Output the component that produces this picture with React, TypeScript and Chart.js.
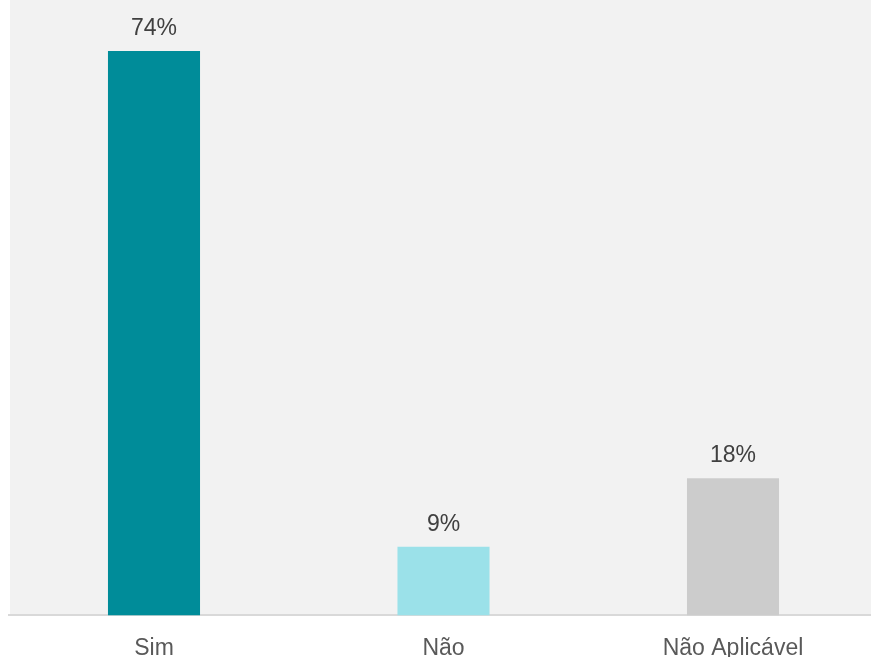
import React, { useEffect, useRef } from "react";
import { Chart, registerables } from "chart.js";

Chart.register(...registerables);

const categories = ["Sim", "Não", "Não Aplicável"];
const values = [74, 9, 18];
const valueLabels = ["74%", "9%", "18%"];
const barColors = ["#008C99", "#9BE1E9", "#CCCCCC"];

const bgPlugin = {
  id: "areaBg",
  beforeDraw(chart: any) {
    const { ctx, chartArea } = chart;
    ctx.save();
    ctx.fillStyle = "#F2F2F2";
    ctx.fillRect(10, chartArea.top, chart.width - 10, chartArea.bottom - chartArea.top);
    ctx.restore();
  },
};

const labelPlugin = {
  id: "valueLabels",
  afterDatasetsDraw(chart: any) {
    const { ctx } = chart;
    const meta = chart.getDatasetMeta(0);
    ctx.save();
    ctx.fillStyle = "#404040";
    ctx.font = "23px 'Liberation Sans', Arial, sans-serif";
    ctx.textAlign = "center";
    ctx.textBaseline = "alphabetic";
    meta.data.forEach((bar: any, i: number) => {
      ctx.fillText(valueLabels[i], bar.x, bar.y - 16);
    });
    ctx.restore();
  },
};

export default function App() {
  const ref = useRef<HTMLCanvasElement>(null);
  useEffect(() => {
    document.documentElement.style.overflow = "hidden";
    const chart = new Chart(ref.current!, {
      type: "bar",
      data: {
        labels: categories,
        datasets: [
          {
            data: values,
            backgroundColor: barColors,
            borderWidth: 0,
            barPercentage: 0.318,
            categoryPercentage: 1,
          },
        ],
      },
      options: {
        responsive: false,
        animation: false,
        layout: { padding: { left: 9.25, right: 2.25, top: 0, bottom: 0 } },
        plugins: { legend: { display: false }, tooltip: { enabled: false } },
        scales: {
          y: { display: false, min: 0, max: 80.7 },
          x: {
            grid: { display: false },
            border: { display: true, color: "#D9D9D9", width: 2 },
            ticks: {
              color: "#595959",
              font: { family: "'Liberation Sans', Arial, sans-serif", size: 23 },
              padding: 11,
            },
          },
        },
      },
      plugins: [bgPlugin, labelPlugin],
    });
    return () => chart.destroy();
  }, []);
  return (
    <div style={{ position: "absolute", left: 0, top: 0, width: 871, height: 657, overflow: "hidden", background: "#fff" }}>
      <canvas ref={ref} width={880} height={673} style={{ display: "block" }} />
    </div>
  );
}
